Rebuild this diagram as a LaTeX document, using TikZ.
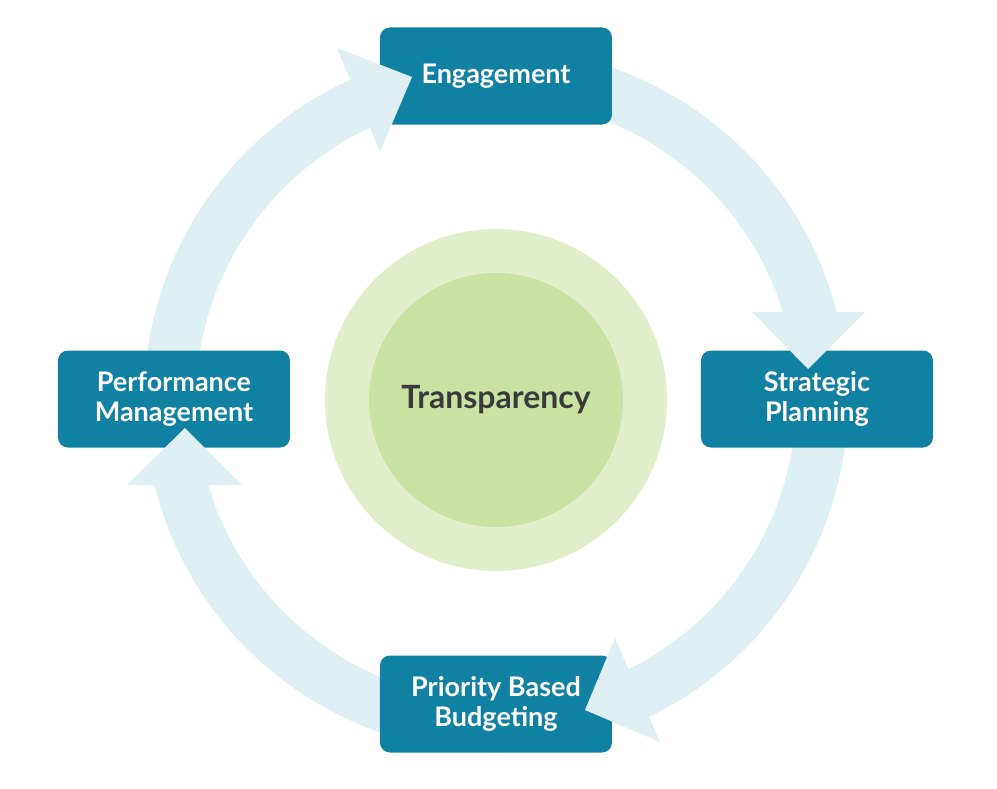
\documentclass[tikz,border=0pt]{standalone}
\usepackage{fontspec}
\setmainfont{Lato}
\usetikzlibrary{calc}
\pgfdeclarelayer{ring}
\pgfsetlayers{ring,main}

\definecolor{boxteal}{HTML}{1080A3}
\definecolor{ringblue}{HTML}{DFF0F5}
\definecolor{halogreen}{HTML}{E1EECC}
\definecolor{coregreen}{HTML}{C9E1A1}
\definecolor{coretext}{HTML}{3A3A3C}

\begin{document}
\begin{tikzpicture}[
    x=0.5pt, y=0.5pt,
    box/.style = {fill=boxteal, rounded corners=5pt, align=center, minimum width=116pt, minimum height=48.5pt, text=white, font=\fontsize{13.5}{15}\selectfont\bfseries},
    shaft/.style = {draw=ringblue, line width=26pt},
    head/.style = {fill=ringblue}
  ]
  \useasboundingbox (-496,-388) rectangle (501,400);
  \node[circle, fill=halogreen, minimum size=171pt] (halo) at (0,0) {};
  \node[circle, fill=coregreen, minimum size=127pt, text=coretext, font=\fontsize{16}{18}\selectfont\bfseries] (core) at (0,0) {Transparency};

  \node[box] (eng) at (0,324) {Engagement};
  \node[box] (strat) at (321,1) {Strategic\\Planning};
  \node[box] (pbb) at (0,-304) {Priority Based\\Budgeting};
  \node[box] (perf) at (-322,1) {Performance\\Management};

  % ring of arrows behind the boxes
  \begin{pgfonlayer}{ring}
    \draw[shaft] ($(core)+(180:326)$) arc[start angle=180, end angle=113, radius=326];
    \draw[shaft] ($(core)+(85:326)$) arc[start angle=85, end angle=12, radius=326];
    \draw[shaft] ($(core)+(0:326)$) arc[start angle=0, end angle=-67, radius=326];
    \draw[shaft] ($(core)+(-85:326)$) arc[start angle=-85, end angle=-168, radius=326];
  \end{pgfonlayer}

  % arrow heads on top of the boxes
  \fill[head] (-159,352) -- (-84,323) -- (-116,248) -- cycle;
  \fill[head] (256,88) -- (312,31) -- (369,88) -- cycle;
  \fill[head] (164,-342) -- (89,-310) -- (119,-238) -- cycle;
  \fill[head] (-369,-85) -- (-311,-28) -- (-254,-85) -- cycle;
\end{tikzpicture}
\end{document}
